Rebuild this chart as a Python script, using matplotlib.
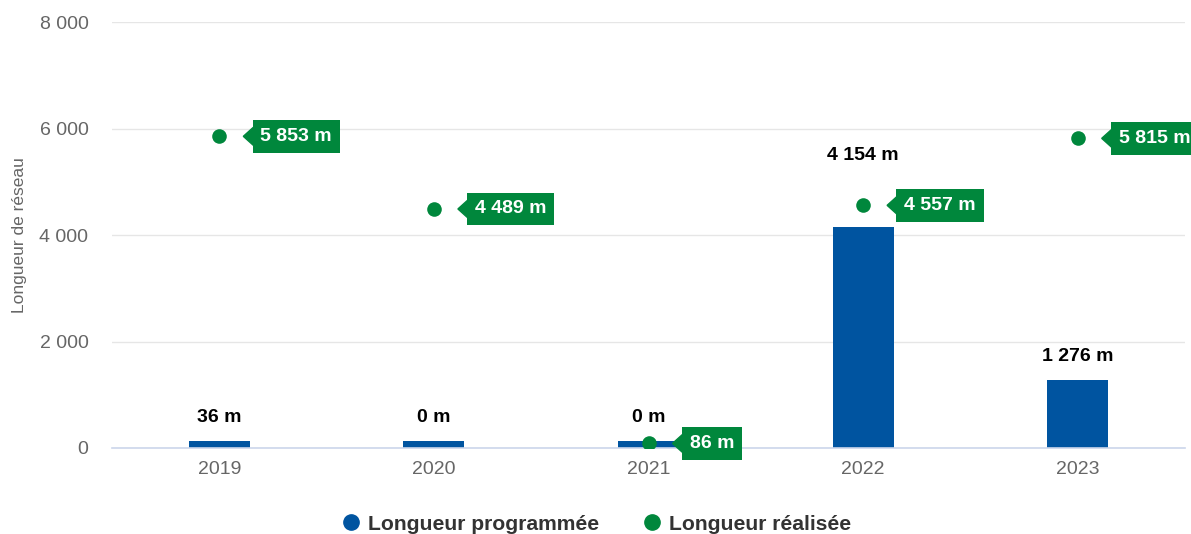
import matplotlib
matplotlib.use("Agg")
import matplotlib.pyplot as plt
from matplotlib.patches import Polygon
from matplotlib.transforms import ScaledTranslation
from matplotlib.lines import Line2D

plt.rcParams['font.family'] = ['Liberation Sans', 'DejaVu Sans']

years = ["2019", "2020", "2021", "2022", "2023"]
programmee = [36, 0, 0, 4154, 1276]
realisee = [5853, 4489, 86, 4557, 5815]
yticks = [0, 2000, 4000, 6000, 8000]
ytick_labels = ["0", "2 000", "4 000", "6 000", "8 000"]
series_names = ["Longueur programmée", "Longueur réalisée"]
ylabel = "Longueur de réseau"

BLUE = "#0054A0"
GREEN = "#00873C"

def fmt(v):
    return f"{v:,}".replace(",", " ") + " m"

W, H, DPI = 1191, 534, 100
fig = plt.figure(figsize=(W / DPI, H / DPI), dpi=DPI)
L, R, T, B = 112, 1185, 22, 448
ax = fig.add_axes([L / W, (H - B) / H, (R - L) / W, (B - T) / H])
ax.set_xlim(-0.5, len(years) - 0.5)
ax.set_ylim(0, 8000)

px_per_unit = (B - T) / 8000
min_len = 7 / px_per_unit
x = list(range(len(years)))
heights = [max(v, min_len) for v in programmee]
ax.bar(x, heights, width=0.285, color=BLUE, zorder=2)

ax.plot(x, realisee, 'o', color=GREEN, markersize=10.5, zorder=4, markeredgewidth=0)

# grid & axes
ax.set_yticks(yticks)
ax.set_yticklabels(ytick_labels)
ax.set_xticks(x)
ax.set_xticklabels(years)
ax.grid(axis='y', color='#e6e6e6', linewidth=1, zorder=0)
ax.set_axisbelow(True)
for s in ['top', 'right', 'left']:
    ax.spines[s].set_visible(False)
ax.spines['bottom'].set_color('#ccd6eb')
ax.spines['bottom'].set_linewidth(1.2)
ax.tick_params(axis='both', length=0, labelsize=14, labelcolor='#666666')
ax.tick_params(axis='y', pad=17)
ax.tick_params(axis='x', pad=9)
ax.set_ylabel(ylabel, fontsize=12.5, color='#666666')
ax.yaxis.set_label_coords(-(L - 27) / (R - L), 0.5)

# bar data labels
for xi, v, r in zip(x, programmee, realisee):
    anchor = max(v, min_len)
    if v > 1000 and abs(r - v) < 800:
        anchor = max(anchor, r) + 480
    ax.annotate(fmt(v), xy=(xi, anchor), xytext=(0, 24), textcoords='offset pixels',
                ha='center', va='center', fontsize=14, fontweight='bold', color='black', zorder=5)

# green labels with arrow
for xi, r in zip(x, realisee):
    tr = fig.dpi_scale_trans + ScaledTranslation(xi, r, ax.transData)
    tri = Polygon([(24 / DPI, 0), (34 / DPI, 9 / DPI), (34 / DPI, -9 / DPI)],
                  closed=True, transform=tr, color=GREEN, zorder=5, clip_on=False)
    fig.add_artist(tri)
    ax.annotate(fmt(r), xy=(xi, r), xytext=(41, 0), textcoords='offset pixels',
                ha='left', va='center', fontsize=14, fontweight='bold', color='white',
                bbox=dict(boxstyle='square,pad=0.4', fc=GREEN, ec='none'), zorder=6,
                annotation_clip=False)

handles = [Line2D([], [], marker='o', linestyle='none', color=BLUE, markersize=11),
           Line2D([], [], marker='o', linestyle='none', color=GREEN, markersize=11)]
leg = fig.legend(handles, series_names, loc='center', bbox_to_anchor=(0.5, 10 / H),
                 ncol=2, frameon=False, handletextpad=0.3, columnspacing=2.0,
                 prop={'size': 15.2, 'weight': 'bold'}, handlelength=1.0)
for t in leg.get_texts():
    t.set_color('#333333')

fig.savefig("out.png", dpi=DPI)
